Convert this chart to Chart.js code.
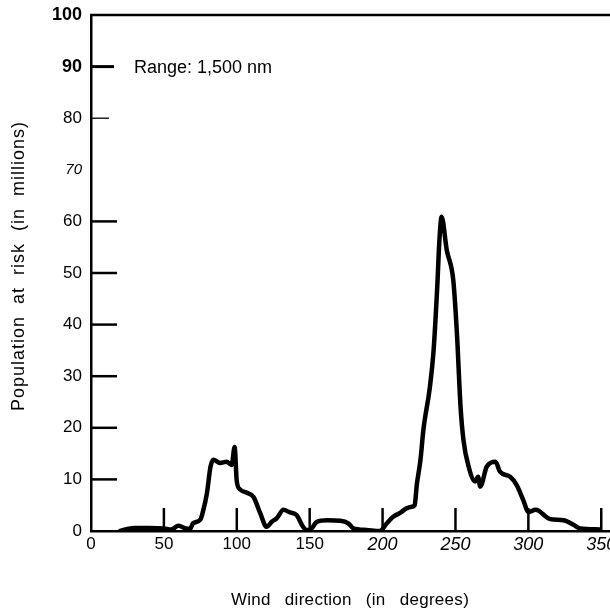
<!DOCTYPE html>
<html>
<head>
<meta charset="utf-8">
<script src="https://cdn.jsdelivr.net/npm/chart.js@4.4.1/dist/chart.umd.min.js"></script>
<style>
  html, body { margin: 0; padding: 0; background: #fff; }
  #wrap { width: 610px; height: 610px; }
</style>
</head>
<body>
<div id="wrap"><canvas id="graph" width="610" height="610"></canvas></div>
<script>
// wind direction (degrees) and population at risk (millions)
const directions = [20, 25, 30, 40, 50, 55, 60, 65, 68, 70, 75, 77, 79.5, 82, 84, 88.5, 93, 96.5, 98.5, 100,
  102.5, 107, 111.5, 116, 120.5, 124, 127.5, 132, 136.5, 141, 145.5, 148, 150, 155, 162, 171, 176.5, 180,
  189, 198, 203, 207.5, 212, 216.5, 220, 222, 223.5, 226, 228, 232.5, 235, 237.5, 239, 240.5, 244, 248.5,
  251, 253.5, 255.5, 259, 263.5, 265.5, 267, 271.5, 277.5, 280.5, 287.5, 292, 296.5, 300, 305, 315, 324,
  331, 335.5, 349];
const population = [0, 0.4, 0.6, 0.6, 0.5, 0.3, 1.0, 0.5, 0.4, 1.5, 2.2, 4, 7.3, 12.5, 13.8, 13.2, 13.4, 12.8, 16.3, 9.6,
  8, 7.4, 6.6, 3.5, 0.8, 1.8, 2.5, 4.1, 3.6, 3.1, 0.8, 0.2, 0.2, 1.8, 2.1, 2.0, 1.5, 0.5,
  0.2, 0, 1.5, 2.8, 3.5, 4.4, 4.7, 5.0, 9, 13.8, 19.6, 28, 35, 47.3, 56.4, 60.9, 54.5, 48.6,
  38.3, 24, 17.6, 12.5, 9.6, 10.5, 8.6, 12.5, 13.4, 11.5, 10.5, 8.9, 6.0, 3.7, 4.1, 2.3, 2.1,
  1.2, 0.5, 0.3];

const xTicks = [0, 50, 100, 150, 200, 250, 300, 350];
const yTicks = [0, 10, 20, 30, 40, 50, 60, 70, 80, 90, 100];
const xTitle = "Wind direction (in degrees)";
const yTitle = "Population at risk (in millions)";
const note = "Range: 1,500 nm";

const FONT = "'Liberation Sans', Arial, Helvetica, sans-serif";
const ctx = document.getElementById("graph");

// short inward tick marks, top rule, titles and the range note
const decorations = {
  id: "decorations",
  beforeDatasetsDraw(chart) {
    const c = chart.ctx;
    const x = chart.scales.x;
    const y = chart.scales.y;
    const area = chart.chartArea;
    c.save();
    c.strokeStyle = "#000";
    c.lineCap = "butt";

    // top rule
    c.lineWidth = 2.5;
    c.beginPath();
    c.moveTo(area.left - 1, area.top);
    c.lineTo(chart.width, area.top);
    c.stroke();

    xTicks.forEach((v) => {
      if (v === 0) return;
      const px = x.getPixelForValue(v);
      c.lineWidth = 2.5;
      c.beginPath();
      c.moveTo(px, area.bottom);
      c.lineTo(px, area.bottom - 23);
      c.stroke();
    });

    yTicks.forEach((v) => {
      if (v === 0 || v === 70 || v === 100) return;
      const py = y.getPixelForValue(v);
      let len = 26;
      c.lineWidth = 2.5;
      if (v === 90) { len = 23; c.lineWidth = 3; }
      if (v === 80) { len = 18; c.lineWidth = 1.3; }
      c.beginPath();
      c.moveTo(area.left, py);
      c.lineTo(area.left + len, py);
      c.stroke();
    });
    c.restore();
  },
  afterDraw(chart) {
    const c = chart.ctx;
    c.save();
    c.fillStyle = "#000";

    c.font = "18px " + FONT;
    c.textAlign = "left";
    c.textBaseline = "middle";
    c.fillText(note, 134, 68);

    c.font = "17px " + FONT;
    c.wordSpacing = "9px";
    c.letterSpacing = "0.3px";
    c.textAlign = "center";
    c.fillText(xTitle, 350, 600);

    c.font = "18px " + FONT;
    c.translate(19, 266);
    c.rotate(-Math.PI / 2);
    c.letterSpacing = "1px";
    c.wordSpacing = "6px";
    c.fillText(yTitle, 0, 0);
    c.restore();
  },
};

const chart = new Chart(ctx, {
  type: "line",
  data: {
    datasets: [
      {
        data: directions.map((d, i) => ({ x: d, y: population[i] })),
        borderColor: "#000",
        borderWidth: 4.5,
        pointRadius: 0,
        fill: false,
        cubicInterpolationMode: "monotone",
        borderJoinStyle: "round",
        borderCapStyle: "round",
      },
    ],
  },
  options: {
    responsive: false,
    animation: false,
    layout: { padding: { top: 15, right: 0, bottom: 0, left: 0 } },
    plugins: {
      legend: { display: false },
      tooltip: { enabled: false },
    },
    scales: {
      x: {
        type: "linear",
        min: 0,
        max: 356,
        grid: { display: false, drawTicks: false },
        border: { display: true, color: "#000", width: 2.5 },
        afterBuildTicks: (s) => { s.ticks = xTicks.map((v) => ({ value: v })); },
        afterFit: (s) => { s.height = 79; s.paddingLeft = 0; s.paddingRight = 0; },
        ticks: {
          color: "#000",
          padding: 3,
          maxRotation: 0,
          autoSkip: false,
          font: (c) => {
            const v = c.tick ? c.tick.value : 0;
            return v >= 200
              ? { family: FONT, size: 18, style: "italic" }
              : { family: FONT, size: 17 };
          },
        },
      },
      y: {
        min: 0,
        max: 100,
        grid: { display: false, drawTicks: false },
        border: { display: true, color: "#000", width: 2.5 },
        afterBuildTicks: (s) => { s.ticks = yTicks.map((v) => ({ value: v })); },
        afterFit: (s) => { s.width = 91; s.paddingTop = 0; s.paddingBottom = 0; },
        ticks: {
          color: "#000",
          padding: 9,
          autoSkip: false,
          font: (c) => {
            const v = c.tick ? c.tick.value : 0;
            if (v === 100 || v === 90) return { family: FONT, size: 18, weight: "bold" };
            if (v === 70) return { family: FONT, size: 15, style: "italic" };
            return { family: FONT, size: 17 };
          },
        },
      },
    },
  },
  plugins: [decorations],
});
</script>
</body>
</html>
